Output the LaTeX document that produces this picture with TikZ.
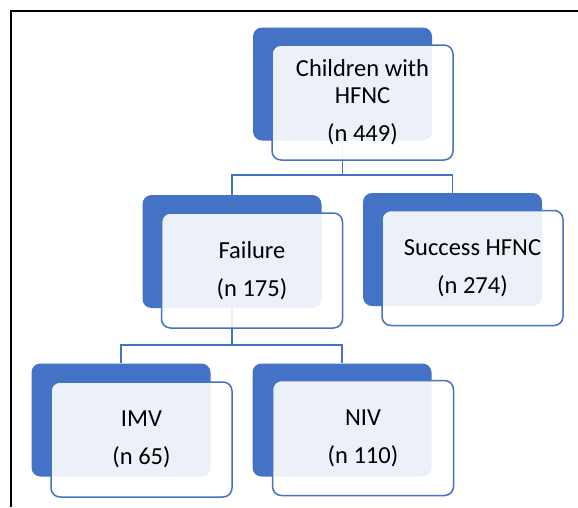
\documentclass[tikz,border=0pt]{standalone}
\usepackage{fontspec}
\setmainfont{Carlito}
\definecolor{obl}{HTML}{4472C4}
\tikzset{
  backbox/.style={fill=obl, rounded corners=9pt, minimum width=179pt, minimum height=113pt, inner sep=0pt},
  frontbox/.style={draw=obl, line width=1.5pt, fill=white, fill opacity=0.9, text opacity=1,
    rounded corners=9pt, minimum width=181pt, minimum height=115pt, inner sep=0pt,
    align=center, font=\fontsize{24.5}{27}\selectfont},
  conn/.style={draw=obl, line width=1.5pt},
  framel/.style={draw=black, line width=1.6pt}
}
\begin{document}
\begin{tikzpicture}[x=1pt,y=-1pt]
\useasboundingbox (0,0) rectangle (578,507);
% back boxes
\node[backbox] (topB) at (342.5,84) {};
\node[backbox] (failB) at (232,251.5) {};
\node[backbox] (succB) at (452.5,249.5) {};
\node[backbox] (imvB) at (121,420) {};
\node[backbox] (nivB) at (342,420) {};
% connectors
\coordinate (j1) at (topB.south |- 0,175);
\coordinate (j2) at (failB.south |- 0,345);
\draw[conn] (topB.south) -- (j1) -| (failB.north);
\draw[conn] (j1) -| (succB.north);
\draw[conn] (failB.south) -- (j2) -| (imvB.north);
\draw[conn] (j2) -| (nivB.north);
% front boxes
\node[frontbox] (topF) at (362.5,102.5) {Children with\\HFNC\\[11pt](n 449)};
\node[frontbox] (failF) at (252,270.5) {Failure\\[11pt](n 175)};
\node[frontbox] (succF) at (472.5,268) {Success HFNC\\[11pt](n 274)};
\node[frontbox] (imvF) at (141.5,439.5) {IMV\\[11pt](n 65)};
\node[frontbox] (nivF) at (363,438) {NIV\\[11pt](n 110)};
% frame
\draw[framel] (11,507) -- (11,11) -- (578,11);
\end{tikzpicture}
\end{document}
